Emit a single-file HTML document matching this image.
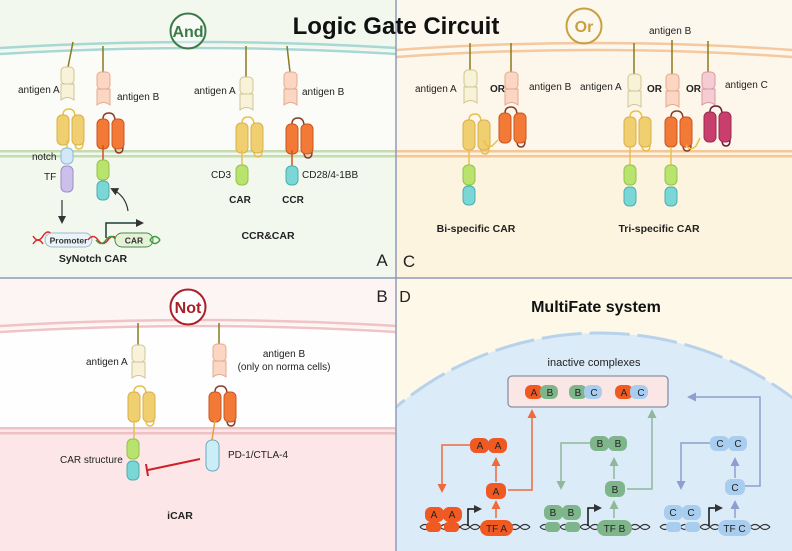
<!DOCTYPE html>
<html><head><meta charset="utf-8"><style>
html,body{margin:0;padding:0;background:#fff;width:792px;height:551px;overflow:hidden}
svg{display:block}
text{font-family:"Liberation Sans",Arial,sans-serif;fill:#222}
.b{font-weight:bold}
</style></head><body>
<svg width="792" height="551" viewBox="0 0 792 551" xmlns="http://www.w3.org/2000/svg">
<defs>
<clipPath id="cd"><rect x="396" y="278" width="396" height="273"/></clipPath>
<marker id="ab" markerWidth="8" markerHeight="8" refX="6" refY="4" orient="auto" markerUnits="userSpaceOnUse"><path d="M0,0 L8,4 L0,8 z" fill="#333"/></marker>
<marker id="ao" markerWidth="9" markerHeight="9" refX="6" refY="4.5" orient="auto" markerUnits="userSpaceOnUse"><path d="M0,0 L9,4.5 L0,9 z" fill="#ee6a3a"/></marker>
<marker id="ag" markerWidth="9" markerHeight="9" refX="6" refY="4.5" orient="auto" markerUnits="userSpaceOnUse"><path d="M0,0 L9,4.5 L0,9 z" fill="#8fb79a"/></marker>
<marker id="au" markerWidth="9" markerHeight="9" refX="6" refY="4.5" orient="auto" markerUnits="userSpaceOnUse"><path d="M0,0 L9,4.5 L0,9 z" fill="#8e9ed0"/></marker>
<g id="antA"><rect x="-6" y="0" width="13" height="17" rx="4" fill="#f7f2d8" stroke="#cfc596"/><path d="M-6,17 L7,17 L7,33 Q0.5,28 -6,33 Z" fill="#f7f2d8" stroke="#cfc596"/></g>
<g id="antB"><rect x="-6" y="0" width="13" height="17" rx="4" fill="#fad6c3" stroke="#e3ab90"/><path d="M-6,17 L7,17 L7,33 Q0.5,28 -6,33 Z" fill="#fad6c3" stroke="#e3ab90"/></g>
<g id="antC"><rect x="-6" y="0" width="13" height="17" rx="4" fill="#f4ccd2" stroke="#d79aa6"/><path d="M-6,17 L7,17 L7,33 Q0.5,28 -6,33 Z" fill="#f4ccd2" stroke="#d79aa6"/></g>
<g id="scY"><path d="M0,0 Q0,-6 6,-6 Q12,-6 12,2 L12,28 Q12,34 16,34 Q20,34 20,28" fill="none" stroke="#e8c14a" stroke-width="1.5"/><rect x="-6" y="0" width="12" height="30" rx="5" fill="#f0cf70" stroke="#d9b04a"/><rect x="9" y="0" width="12" height="30" rx="5" fill="#f0cf70" stroke="#d9b04a"/></g>
<g id="scO"><path d="M0,0 Q0,-6 6,-6 Q12,-6 12,2 L12,28 Q12,34 16,34 Q20,34 20,28" fill="none" stroke="#8a3d2a" stroke-width="1.5"/><rect x="-6" y="0" width="12" height="30" rx="5" fill="#f27a36" stroke="#c95520"/><rect x="9" y="0" width="12" height="30" rx="5" fill="#f27a36" stroke="#c95520"/></g>
<g id="scM"><path d="M0,0 Q0,-6 6,-6 Q12,-6 12,2 L12,28 Q12,34 16,34 Q20,34 20,28" fill="none" stroke="#6a1a3a" stroke-width="1.5"/><rect x="-6" y="0" width="12" height="30" rx="5" fill="#c83e6c" stroke="#9a2a50"/><rect x="9" y="0" width="12" height="30" rx="5" fill="#c83e6c" stroke="#9a2a50"/></g>
<g id="gr"><rect x="-6" y="0" width="12" height="20" rx="5" fill="#b8e36c" stroke="#94c24a"/></g>
<g id="cy"><rect x="-6" y="0" width="12" height="19" rx="5" fill="#7ad7d6" stroke="#4aaeb0"/></g>
</defs>

<!-- Panel A -->
<rect x="0" y="0" width="396" height="278" fill="#f3f8ef"/>
<path d="M0,52 Q198,40 396,52 L396,152 L0,152 Z" fill="#fbfcf8"/>
<path d="M0,48 Q198,36 396,48" stroke="#a9d7d4" stroke-width="2.5" fill="none"/>
<path d="M0,54 Q198,42 396,54" stroke="#a9d7d4" stroke-width="2.5" fill="none"/>
<rect x="0" y="150" width="396" height="2.5" fill="#c5dcb3"/><rect x="0" y="155" width="396" height="2.5" fill="#c5dcb3"/>
<!-- Panel C -->
<rect x="396" y="0" width="396" height="278" fill="#fdf8ee"/>
<path d="M396,55 Q594,42 792,55 L792,152 L396,152 Z" fill="#fdf6ea"/>
<path d="M396,50 Q594,36 792,50" stroke="#f4c9a0" stroke-width="2.5" fill="none"/>
<path d="M396,57 Q594,43 792,57" stroke="#f4c9a0" stroke-width="2.5" fill="none"/>
<rect x="396" y="152" width="396" height="126" fill="#fdf4e0"/>
<rect x="396" y="150" width="396" height="2.5" fill="#f4c698"/><rect x="396" y="155" width="396" height="2.5" fill="#f4c698"/>
<!-- Panel B -->
<rect x="0" y="278" width="396" height="273" fill="#fdf5f4"/>
<path d="M0,330 Q198,318 396,330 L396,428 L0,428 Z" fill="#fefefe"/>
<path d="M0,326 Q198,314 396,326" stroke="#f0c3c5" stroke-width="2.5" fill="none"/>
<path d="M0,332 Q198,320 396,332" stroke="#f0c3c5" stroke-width="2.5" fill="none"/>
<rect x="0" y="430" width="396" height="121" fill="#fce6e7"/>
<rect x="0" y="427" width="396" height="2.5" fill="#ecc2c4"/><rect x="0" y="432" width="396" height="2.5" fill="#ecc2c4"/>
<!-- Panel D -->
<rect x="396" y="278" width="396" height="273" fill="#fdf8e7"/>
<g clip-path="url(#cd)">
<circle cx="600" cy="651" r="318" fill="#dcebf8"/>
<circle cx="600" cy="651" r="318" fill="none" stroke="#b7d2ea" stroke-width="3" stroke-dasharray="40 8"/>
</g>
<!-- dividers -->
<line x1="396" y1="0" x2="396" y2="551" stroke="#8f9bb8" stroke-width="1.5"/>
<line x1="0" y1="278" x2="792" y2="278" stroke="#8f9bb8" stroke-width="1.5"/>

<text x="396" y="34" text-anchor="middle" class="b" font-size="24" style="fill:#111">Logic Gate Circuit</text>
<circle cx="188" cy="31" r="17.5" fill="#fff" fill-opacity="0.4" stroke="#3d7a4a" stroke-width="2"/>
<text x="188" y="37" text-anchor="middle" class="b" font-size="16" style="fill:#3d7a4a">And</text>
<circle cx="584" cy="26" r="17.5" fill="none" stroke="#c9a040" stroke-width="2"/>
<text x="584" y="32" text-anchor="middle" class="b" font-size="16" style="fill:#c9a040">Or</text>
<circle cx="188" cy="307" r="17.5" fill="#fff" stroke="#a8202a" stroke-width="2"/>
<text x="188" y="313" text-anchor="middle" class="b" font-size="16" style="fill:#a8202a">Not</text>

<!-- A: SyNotch -->
<line x1="73" y1="42" x2="68" y2="67" stroke="#8a7a20" stroke-width="1.5"/>
<use href="#antA" x="67" y="67"/>
<line x1="103" y1="46" x2="103" y2="72" stroke="#8a7a20" stroke-width="1.5"/>
<use href="#antB" x="103" y="72"/>
<use href="#scY" x="63" y="115"/>
<line x1="67" y1="140" x2="67" y2="148" stroke="#e8c14a" stroke-width="1.5"/>
<rect x="61" y="148" width="12" height="16" rx="5" fill="#d3e8f6" stroke="#8fb8d8"/>
<rect x="61" y="166" width="12" height="26" rx="5" fill="#ccc0ea" stroke="#9a8ccc"/>
<use href="#scO" x="103" y="119"/>
<line x1="103" y1="145" x2="103" y2="160" stroke="#c95520" stroke-width="1.5"/>
<use href="#gr" x="103" y="160"/>
<use href="#cy" x="103" y="181"/>
<line x1="62" y1="200" x2="62" y2="222" stroke="#333" stroke-width="1.2" marker-end="url(#ab)"/>
<path d="M128,211 Q126,196 112,189" fill="none" stroke="#333" stroke-width="1.2" marker-end="url(#ab)"/>
<text x="18" y="93" font-size="10">antigen A</text>
<text x="117" y="100" font-size="10">antigen B</text>
<text x="32" y="160" font-size="10">notch</text>
<text x="44" y="180" font-size="10">TF</text>
<!-- DNA -->
<path d="M33,236 q5,8 10,0 q5,-8 10,0" fill="none" stroke="#d82a2a" stroke-width="1.5"/>
<path d="M33,244 q5,-8 10,0" fill="none" stroke="#d82a2a" stroke-width="1.5"/>
<rect x="45" y="233" width="47" height="14" rx="7" fill="#eaf4f8" stroke="#9fb8c8"/>
<text x="68.5" y="243.5" text-anchor="middle" font-size="8.5" class="b" style="fill:#333">Promoter</text>
<path d="M88,240 q5,-7 10,0 q5,7 10,0 q5,-7 10,0" fill="none" stroke="#d82a2a" stroke-width="1.5"/>
<path d="M96,240 q5,7 10,0 q5,-7 10,0 q5,7 10,0" fill="none" stroke="#3a9a3a" stroke-width="1.5"/>
<rect x="115" y="233" width="38" height="14" rx="7" fill="#e5f2d8" stroke="#4a8a4a"/>
<text x="134" y="243.5" text-anchor="middle" font-size="8.5" class="b" style="fill:#333">CAR</text>
<path d="M150,240 q5,-7 10,0 M150,240 q5,7 10,0" fill="none" stroke="#3a9a3a" stroke-width="1.5"/>
<path d="M106,238 L106,223 L142,223" fill="none" stroke="#1e3a3a" stroke-width="1.5" marker-end="url(#ab)"/>
<text x="93" y="262" text-anchor="middle" class="b" font-size="10.5">SyNotch CAR</text>

<!-- A: CCR&CAR -->
<line x1="246" y1="46" x2="246" y2="77" stroke="#8a7a20" stroke-width="1.5"/>
<use href="#antA" x="246" y="77"/>
<line x1="287" y1="46" x2="290" y2="72" stroke="#8a7a20" stroke-width="1.5"/>
<use href="#antB" x="290" y="72"/>
<use href="#scY" x="242" y="123"/>
<line x1="242" y1="150" x2="242" y2="165" stroke="#e8c14a" stroke-width="1.5"/>
<use href="#gr" x="242" y="165"/>
<use href="#scO" x="292" y="124"/>
<line x1="292" y1="150" x2="292" y2="166" stroke="#c95520" stroke-width="1.5"/>
<use href="#cy" x="292" y="166"/>
<text x="194" y="94" font-size="10">antigen A</text>
<text x="302" y="95" font-size="10">antigen B</text>
<text x="211" y="178" font-size="10">CD3</text>
<text x="302" y="178" font-size="10">CD28/4-1BB</text>
<text x="240" y="203" text-anchor="middle" class="b" font-size="10">CAR</text>
<text x="293" y="203" text-anchor="middle" class="b" font-size="10">CCR</text>
<text x="268" y="239" text-anchor="middle" class="b" font-size="10.5">CCR&amp;CAR</text>
<text x="382" y="266" text-anchor="middle" font-size="17">A</text>

<!-- C: Bi-specific -->
<line x1="470" y1="43" x2="470" y2="70" stroke="#8a7a20" stroke-width="1.5"/>
<use href="#antA" x="470" y="70"/>
<line x1="511" y1="43" x2="511" y2="72" stroke="#8a7a20" stroke-width="1.5"/>
<use href="#antB" x="511" y="72"/>
<use href="#scY" x="469" y="120"/>
<path d="M484,140 Q486,148 492,146 L498,140" fill="none" stroke="#e8c14a" stroke-width="1.5"/>
<use href="#scO" x="505" y="113"/>
<line x1="469" y1="150" x2="469" y2="165" stroke="#e8c14a" stroke-width="1.5"/>
<use href="#gr" x="469" y="165"/>
<use href="#cy" x="469" y="186"/>
<text x="415" y="92" font-size="10">antigen A</text>
<text x="490" y="92" font-size="10" class="b">OR</text>
<text x="529" y="90" font-size="10">antigen B</text>
<text x="476" y="232" text-anchor="middle" class="b" font-size="10.5">Bi-specific CAR</text>
<!-- C: Tri -->
<line x1="634" y1="43" x2="634" y2="74" stroke="#8a7a20" stroke-width="1.5"/>
<use href="#antA" x="634" y="74"/>
<line x1="672" y1="40" x2="672" y2="74" stroke="#8a7a20" stroke-width="1.5"/>
<use href="#antB" x="672" y="74"/>
<line x1="708" y1="41" x2="708" y2="72" stroke="#8a7a20" stroke-width="1.5"/>
<use href="#antC" x="708" y="72"/>
<use href="#scY" x="630" y="117"/>
<use href="#scO" x="671" y="117"/>
<path d="M686,145 Q690,152 696,146 L700,138" fill="none" stroke="#e8c14a" stroke-width="1.5"/>
<use href="#scM" x="710" y="112"/>
<line x1="630" y1="147" x2="630" y2="165" stroke="#e8c14a" stroke-width="1.5"/>
<use href="#gr" x="630" y="165"/>
<use href="#cy" x="630" y="187"/>
<line x1="671" y1="147" x2="671" y2="165" stroke="#e8c14a" stroke-width="1.5"/>
<use href="#gr" x="671" y="165"/>
<use href="#cy" x="671" y="187"/>
<text x="580" y="90" font-size="10">antigen A</text>
<text x="649" y="34" font-size="10">antigen B</text>
<text x="725" y="88" font-size="10">antigen C</text>
<text x="647" y="92" font-size="10" class="b">OR</text>
<text x="686" y="92" font-size="10" class="b">OR</text>
<text x="659" y="232" text-anchor="middle" class="b" font-size="10.5">Tri-specific CAR</text>
<text x="409" y="267" text-anchor="middle" font-size="17">C</text>

<!-- B: iCAR -->
<text x="382" y="302" text-anchor="middle" font-size="17">B</text>
<line x1="138" y1="323" x2="138" y2="345" stroke="#8a7a20" stroke-width="1.5"/>
<use href="#antA" x="138" y="345"/>
<line x1="219" y1="323" x2="219" y2="344" stroke="#8a7a20" stroke-width="1.5"/>
<use href="#antB" x="219" y="344"/>
<use href="#scY" x="134" y="392"/>
<use href="#scO" x="215" y="392"/>
<line x1="134" y1="420" x2="134" y2="439" stroke="#e8c14a" stroke-width="1.5"/>
<use href="#gr" x="133" y="439"/>
<use href="#cy" x="133" y="461"/>
<line x1="215" y1="420" x2="212" y2="440" stroke="#e8a040" stroke-width="1.5"/>
<rect x="206" y="440" width="13" height="31" rx="6" fill="#c9eef6" stroke="#6aaac0"/>
<line x1="200" y1="459" x2="148" y2="470" stroke="#d0202a" stroke-width="2"/>
<line x1="146" y1="464" x2="148" y2="476" stroke="#d0202a" stroke-width="2"/>
<text x="86" y="365" font-size="10">antigen A</text>
<text x="284" y="357" text-anchor="middle" font-size="10">antigen B</text>
<text x="284" y="370" text-anchor="middle" font-size="10">(only on norma cells)</text>
<text x="60" y="463" font-size="10">CAR structure</text>
<text x="228" y="458" font-size="10">PD-1/CTLA-4</text>
<text x="180" y="519" text-anchor="middle" class="b" font-size="10.5">iCAR</text>

<!-- D -->
<text x="405" y="302" text-anchor="middle" font-size="16">D</text>
<text x="596" y="312" text-anchor="middle" class="b" font-size="16" style="fill:#111">MultiFate system</text>
<text x="594" y="366" text-anchor="middle" font-size="11">inactive complexes</text>
<rect x="508" y="376" width="160" height="31" rx="4" fill="#fbe6e6" stroke="#8a8fa8" stroke-width="1.3"/>
<g font-size="10">
<rect x="525" y="385" width="18" height="14" rx="6" fill="#f05a22"/><rect x="540" y="385" width="18" height="14" rx="6" fill="#7fb58a"/>
<text x="534" y="396" text-anchor="middle">A</text><text x="550" y="396" text-anchor="middle">B</text>
<rect x="569" y="385" width="18" height="14" rx="6" fill="#7fb58a"/><rect x="584" y="385" width="18" height="14" rx="6" fill="#a9cdee"/>
<text x="578" y="396" text-anchor="middle">B</text><text x="594" y="396" text-anchor="middle">C</text>
<rect x="615" y="385" width="18" height="14" rx="6" fill="#f05a22"/><rect x="630" y="385" width="18" height="14" rx="6" fill="#a9cdee"/>
<text x="624" y="396" text-anchor="middle">A</text><text x="641" y="396" text-anchor="middle">C</text>
</g>
<g font-size="10" stroke-width="1.5" fill="none">
<path d="M508,490 L532,490 L532,412" stroke="#ee6a3a" marker-end="url(#ao)"/>
<path d="M496,482 L496,460" stroke="#ee6a3a" marker-end="url(#ao)"/>
<path d="M496,518 L496,503" stroke="#ee6a3a" marker-end="url(#ao)"/>
<path d="M470,445 L442,445 L442,490" stroke="#ee6a3a" marker-end="url(#ao)"/>
<path d="M627,489 L652,489 L652,412" stroke="#8fb79a" marker-end="url(#ag)"/>
<path d="M614,479 L614,460" stroke="#8fb79a" marker-end="url(#ag)"/>
<path d="M614,518 L614,503" stroke="#8fb79a" marker-end="url(#ag)"/>
<path d="M590,443 L561,443 L561,487" stroke="#8fb79a" marker-end="url(#ag)"/>
<path d="M745,486 L760,486 L760,397 L690,397" stroke="#8e9ed0" marker-end="url(#au)"/>
<path d="M735,478 L735,460" stroke="#8e9ed0" marker-end="url(#au)"/>
<path d="M735,518 L735,503" stroke="#8e9ed0" marker-end="url(#au)"/>
<path d="M710,443 L681,443 L681,487" stroke="#8e9ed0" marker-end="url(#au)"/>
</g>
<g font-size="10">
<rect x="470" y="438" width="19" height="15" rx="6" fill="#f05a22"/><rect x="488" y="438" width="19" height="15" rx="6" fill="#f05a22"/>
<text x="480" y="449" text-anchor="middle">A</text><text x="498" y="449" text-anchor="middle">A</text>
<rect x="486" y="483" width="20" height="16" rx="6" fill="#f05a22"/><text x="496" y="495" text-anchor="middle">A</text>
<rect x="425" y="507" width="19" height="15" rx="6" fill="#f05a22"/><rect x="443" y="507" width="19" height="15" rx="6" fill="#f05a22"/>
<text x="434" y="518" text-anchor="middle">A</text><text x="452" y="518" text-anchor="middle">A</text>
<rect x="590" y="436" width="19" height="15" rx="6" fill="#7fb58a"/><rect x="608" y="436" width="19" height="15" rx="6" fill="#7fb58a"/>
<text x="600" y="447" text-anchor="middle">B</text><text x="618" y="447" text-anchor="middle">B</text>
<rect x="605" y="481" width="20" height="16" rx="6" fill="#7fb58a"/><text x="615" y="493" text-anchor="middle">B</text>
<rect x="544" y="505" width="19" height="15" rx="6" fill="#7fb58a"/><rect x="562" y="505" width="19" height="15" rx="6" fill="#7fb58a"/>
<text x="553" y="516" text-anchor="middle">B</text><text x="571" y="516" text-anchor="middle">B</text>
<rect x="710" y="436" width="19" height="15" rx="6" fill="#a9cdee"/><rect x="728" y="436" width="19" height="15" rx="6" fill="#a9cdee"/>
<text x="720" y="447" text-anchor="middle">C</text><text x="738" y="447" text-anchor="middle">C</text>
<rect x="725" y="479" width="20" height="16" rx="6" fill="#a9cdee"/><text x="735" y="491" text-anchor="middle">C</text>
<rect x="664" y="505" width="19" height="15" rx="6" fill="#a9cdee"/><rect x="682" y="505" width="19" height="15" rx="6" fill="#a9cdee"/>
<text x="673" y="516" text-anchor="middle">C</text><text x="691" y="516" text-anchor="middle">C</text>
</g>
<g fill="none" stroke="#333" stroke-width="1.1">
<path d="M420,527 q5,-5 10,0 q5,5 10,0 q5,-5 10,0 q5,5 10,0 q5,-5 10,0 q5,5 10,0 q5,-5 10,0 q5,5 10,0 q5,-5 10,0 q5,5 10,0 q5,-5 10,0"/>
<path d="M420,527 q5,5 10,0 q5,-5 10,0 q5,5 10,0 q5,-5 10,0 q5,5 10,0 q5,-5 10,0 q5,5 10,0 q5,-5 10,0 q5,5 10,0 q5,-5 10,0 q5,5 10,0"/>
<path d="M540,527 q5,-5 10,0 q5,5 10,0 q5,-5 10,0 q5,5 10,0 q5,-5 10,0 q5,5 10,0 q5,-5 10,0 q5,5 10,0 q5,-5 10,0 q5,5 10,0 q5,-5 10,0"/>
<path d="M540,527 q5,5 10,0 q5,-5 10,0 q5,5 10,0 q5,-5 10,0 q5,5 10,0 q5,-5 10,0 q5,5 10,0 q5,-5 10,0 q5,5 10,0 q5,-5 10,0 q5,5 10,0"/>
<path d="M660,527 q5,-5 10,0 q5,5 10,0 q5,-5 10,0 q5,5 10,0 q5,-5 10,0 q5,5 10,0 q5,-5 10,0 q5,5 10,0 q5,-5 10,0 q5,5 10,0 q5,-5 10,0"/>
<path d="M660,527 q5,5 10,0 q5,-5 10,0 q5,5 10,0 q5,-5 10,0 q5,5 10,0 q5,-5 10,0 q5,5 10,0 q5,-5 10,0 q5,5 10,0 q5,-5 10,0 q5,5 10,0"/>
</g>
<g font-size="10">
<rect x="426" y="522" width="15" height="10" rx="4" fill="#f05a22"/><rect x="444" y="522" width="15" height="10" rx="4" fill="#f05a22"/>
<rect x="480" y="520" width="33" height="16" rx="8" fill="#f05a22"/><text x="496.5" y="532" text-anchor="middle">TF A</text>
<rect x="545" y="522" width="15" height="10" rx="4" fill="#7fb58a"/><rect x="565" y="522" width="15" height="10" rx="4" fill="#7fb58a"/>
<rect x="597" y="520" width="35" height="16" rx="8" fill="#7fb58a"/><text x="614.5" y="532" text-anchor="middle">TF B</text>
<rect x="666" y="522" width="15" height="10" rx="4" fill="#a9cdee"/><rect x="685" y="522" width="15" height="10" rx="4" fill="#a9cdee"/>
<rect x="718" y="520" width="33" height="16" rx="8" fill="#a9cdee"/><text x="734.5" y="532" text-anchor="middle">TF C</text>
</g>
<g fill="none" stroke="#111" stroke-width="1.5">
<path d="M468,526 L468,509 L480,509" marker-end="url(#ab)"/>
<path d="M588,526 L588,508 L600,508" marker-end="url(#ab)"/>
<path d="M709,526 L709,508 L721,508" marker-end="url(#ab)"/>
</g>
</svg>
</body></html>
